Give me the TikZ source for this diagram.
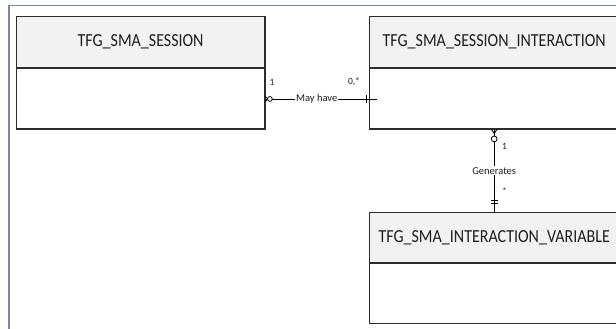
\documentclass[tikz,border=0pt]{standalone}
\usepackage{fontspec}
\setmainfont{Carlito}
\usetikzlibrary{calc}
\definecolor{framecol}{RGB}{120,137,165}
\definecolor{boxline}{RGB}{45,45,45}
\definecolor{hdrfill}{RGB}{242,242,242}
\definecolor{txtcol}{RGB}{30,30,30}
\newcommand{\tallhdr}[1]{\scalebox{1}[1.15]{#1}}
\begin{document}
\begin{tikzpicture}[x=1pt,y=-1pt,
  hdr/.style={draw=boxline, line width=1.1pt, fill=hdrfill, minimum width=248.7pt, inner sep=0pt, anchor=north west, text=txtcol, font=\fontsize{16}{18}\selectfont},
  bodybox/.style={draw=boxline, line width=1.1pt, fill=white, minimum width=248.7pt, minimum height=60pt, inner sep=0pt, anchor=north},
  conn/.style={draw=black, line width=0.8pt},
  lbl/.style={fill=white, inner sep=1pt, text=txtcol, font=\fontsize{10.5}{12}\selectfont},
  mult/.style={inner sep=0pt, text=txtcol, font=\fontsize{9.5}{11}\selectfont}]
\useasboundingbox (0,0) rectangle (616,329);
\clip (0,0) rectangle (616,329);
\fill[white] (0,0) rectangle (616,329);
% outer frame
\coordinate (fbl) at (9,340);
\coordinate (ftl) at (9,5.5);
\coordinate (ftr) at (640,5.5);
\draw[framecol, line width=1.4pt] (fbl) -- (ftl) -- (ftr);
% entities
\node[hdr, minimum height=51.6pt] (s1h) at (15.7,15.7) {\tallhdr{TFG\_SMA\_SESSION}};
\node[bodybox] (s1b) at (s1h.south) {};
\node[hdr, minimum height=51.6pt] (s2h) at (369.3,15.7) {\tallhdr{TFG\_SMA\_SESSION\_INTERACTION}};
\node[bodybox] (s2b) at (s2h.south) {};
\node[hdr, minimum height=49.4pt] (s3h) at (369.3,212.3) {\tallhdr{TFG\_SMA\_INTERACTION\_VARIABLE}};
\node[bodybox] (s3b) at (s3h.south) {};
% horizontal relationship
\coordinate (inA) at ($(s2b.west)+(7.4,0)$);
\draw[conn] (s1b.east) -- node[lbl, pos=0.46] {May have} (inA);
\draw[conn] ($(s1b.east)+(2.2,0)$) -- ($(s1b.east)+(-0.6,-3)$)
            ($(s1b.east)+(2.2,0)$) -- ($(s1b.east)+(-0.6,3)$);
\draw[conn, fill=white] ($(s1b.east)+(4.4,0)$) circle[radius=2.4pt];
\draw[conn] ($(s2b.west)+(-3.3,-3.6)$) -- ($(s2b.west)+(-3.3,3.6)$);
\node[mult] (m1) at ($(s1b.east)+(6.6,-16.3)$) {1};
\node[mult] (m2) at ($(s2b.west)+(-15.3,-17.3)$) {0,*};
% vertical relationship
\draw[conn] (s2b.south) -- node[lbl] {Generates} (s3h.north);
\draw[conn] ($(s2b.south)+(0,4)$) -- ($(s2b.south)+(-3,-0.5)$)
            ($(s2b.south)+(0,4)$) -- ($(s2b.south)+(3,-0.5)$);
\draw[conn, fill=white] ($(s2b.south)+(0,9.4)$) circle[radius=2.9pt];
\draw[conn] ($(s3h.north)+(-3.6,-11.6)$) -- ($(s3h.north)+(3.6,-11.6)$)
            ($(s3h.north)+(-3.6,-9)$) -- ($(s3h.north)+(3.6,-9)$);
\node[mult] (m3) at ($(s2b.south)+(10.4,16.7)$) {1};
\node[mult] (m4) at ($(s3h.north)+(10.4,-21.3)$) {*};
\end{tikzpicture}
\end{document}
